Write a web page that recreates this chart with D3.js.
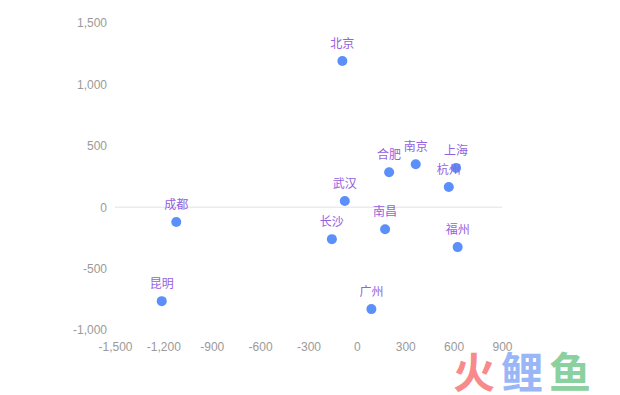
<!DOCTYPE html>
<html>
<head>
<meta charset="utf-8">
<script src="https://cdn.jsdelivr.net/npm/d3@7"></script>
<style>
  body { margin: 0; background: #fff; }
  svg { font-family: "Microsoft YaHei", "Noto Sans CJK SC", sans-serif; }
  .tick text { fill: #9a9a9a; font-size: 12px; }
</style>
</head>
<body>
<svg width="620" height="395"></svg>
<script>
const cities = ['北京', '成都', '昆明', '广州', '合肥', '南京', '上海', '杭州', '武汉', '南昌', '长沙', '福州'];
const xValues = [-90, -1120, -1210, 90, 200, 365, 615, 570, -75, 175, -155, 625];
const yValues = [1190, -120, -765, -830, 285, 350, 320, 165, 50, -180, -260, -325];
const xTicks = [-1500, -1200, -900, -600, -300, 0, 300, 600, 900];
const yTicks = [-1000, -500, 0, 500, 1000, 1500];

const data = cities.map((name, i) => ({ name, x: xValues[i], y: yValues[i] }));

const svg = d3.select('svg');
const margin = { left: 115, right: 118, top: 23, bottom: 65 };
const width = 620, height = 395;

const xScale = d3.scaleLinear()
  .domain([-1500, 900])
  .range([margin.left, width - margin.right]);

const yScale = d3.scaleLinear()
  .domain([-1000, 1500])
  .range([height - margin.bottom, margin.top]);

// plain hyphen for negatives, like the original
const locale = d3.formatLocale({ decimal: '.', thousands: ',', grouping: [3], currency: ['', ''], minus: '-' });
const fmt = locale.format(',');

// zero line
svg.append('line')
  .attr('x1', xScale(-1500))
  .attr('x2', xScale(900))
  .attr('y1', yScale(0))
  .attr('y2', yScale(0))
  .attr('stroke', '#e0e3ea')
  .attr('stroke-width', 1);

const xAxis = d3.axisBottom(xScale)
  .tickValues(xTicks)
  .tickFormat(fmt)
  .tickSize(0)
  .tickPadding(12);

svg.append('g')
  .attr('transform', `translate(0,${yScale(-1000)})`)
  .call(xAxis)
  .call(g => g.select('.domain').remove());

const yAxis = d3.axisLeft(yScale)
  .tickValues(yTicks)
  .tickFormat(fmt)
  .tickSize(0)
  .tickPadding(8);

svg.append('g')
  .attr('transform', `translate(${margin.left},0)`)
  .call(yAxis)
  .call(g => g.select('.domain').remove());

// points
svg.append('g')
  .selectAll('circle')
  .data(data)
  .enter().append('circle')
    .attr('cx', d => xScale(d.x))
    .attr('cy', d => yScale(d.y))
    .attr('r', 5)
    .attr('fill', '#5b8ff9');

// labels
svg.append('g')
  .selectAll('text')
  .data(data)
  .enter().append('text')
    .attr('x', d => xScale(d.x))
    .attr('y', d => yScale(d.y) - 13)
    .attr('text-anchor', 'middle')
    .attr('font-size', 12)
    .attr('fill', '#9461e0')
    .text(d => d.name);

// watermark
const wm = svg.append('text')
  .attr('x', 453)
  .attr('y', 388)
  .attr('font-size', 42)
  .attr('font-weight', 'bold')
  .attr('font-family', '"Noto Sans CJK SC", sans-serif')
  .attr('opacity', 0.9);
wm.append('tspan').attr('fill', '#f77f7f').text('火');
wm.append('tspan').attr('fill', '#8fb0f7').attr('dx', 6).text('鲤');
wm.append('tspan').attr('fill', '#7fcb95').attr('dx', 6).text('鱼');
</script>
</body>
</html>
